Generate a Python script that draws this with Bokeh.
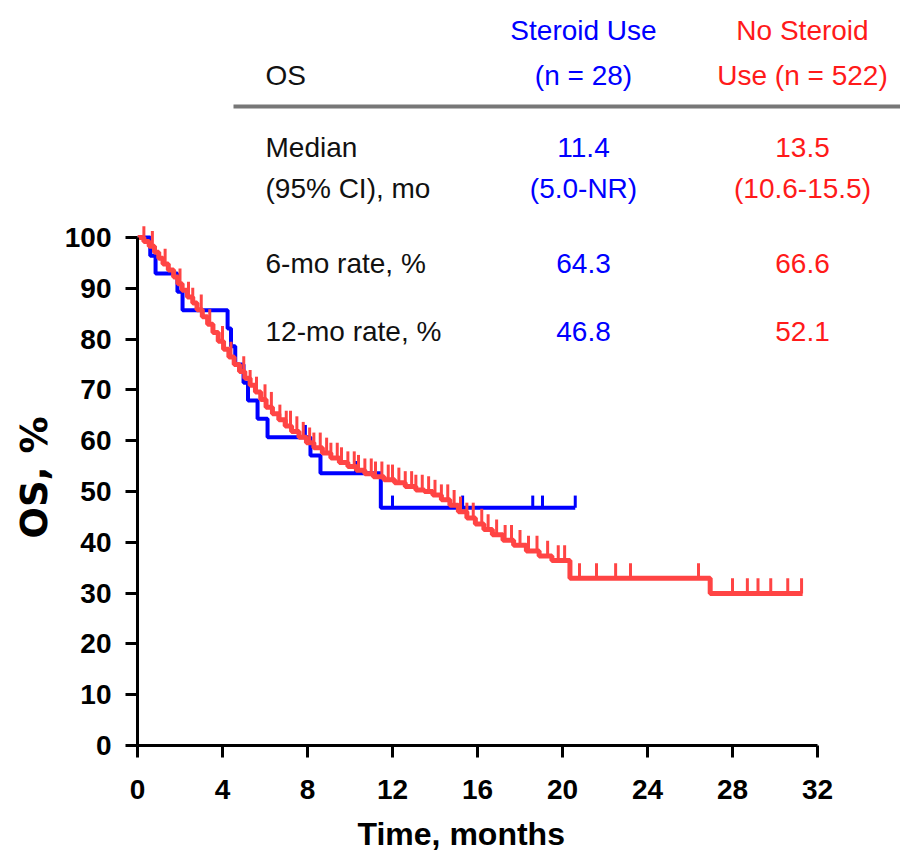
from bokeh.plotting import figure
from bokeh.models import FixedTicker, Title
from bokeh.core.properties import value
from bokeh.embed import file_html
from bokeh.resources import INLINE

# ---------------- data ----------------
# Steroid use (n = 28): drop times (months) and survival (%) after each drop
steroid_t = [0, 0.6, 0.85, 1.88, 2.12, 4.24, 4.4, 4.6, 4.99, 5.2, 5.65, 6.12, 8.14, 8.61, 11.45]
steroid_s = [100, 96.4, 92.9, 89.3, 85.7, 82.1, 78.6, 75.0, 71.4, 67.9, 64.3, 60.7, 57.1, 53.6, 46.8]
steroid_end = 20.6
steroid_censor = [7.9, 10.26, 12.0, 15.3, 18.6, 19.06, 20.6]

# No steroid use (n = 522)
nosteroid_t = [0, 0.3, 0.55, 0.8, 1.0, 1.2, 1.45, 1.7, 1.9, 2.1, 2.35, 2.6, 2.8, 3.05, 3.3,
               3.55, 3.8, 4.05, 4.3, 4.55, 4.8, 5.05, 5.3, 5.55, 5.8, 6.05, 6.35, 6.65, 6.95,
               7.25, 7.6, 7.95, 8.3, 8.7, 9.1, 9.5, 9.9, 10.3, 10.7, 11.1, 11.6, 12.1, 12.6,
               13.1, 13.5, 13.9, 14.3, 14.7, 15.1, 15.5, 15.9, 16.3, 16.7, 17.2, 17.7, 18.3,
               18.9, 19.5, 20.35, 26.95]
nosteroid_s = [100, 99.2, 98.3, 97.1, 95.9, 94.8, 93.6, 92.2, 90.9, 89.6, 88.3, 87.1, 85.8, 84.4, 82.9,
               81.3, 79.6, 78.0, 76.5, 75.0, 73.6, 72.3, 70.9, 69.6, 68.1, 66.6, 65.3, 64.1, 62.9,
               61.8, 60.7, 59.6, 58.6, 57.6, 56.6, 55.7, 54.9, 54.2, 53.5, 52.9, 52.3, 51.7, 51.0,
               50.3, 50.0, 49.3, 48.4, 47.3, 46.0, 44.8, 43.6, 42.5, 41.5, 40.4, 39.4, 38.3,
               37.3, 36.4, 32.9, 29.9]
nosteroid_end = 31.3
nosteroid_censor = [0.3, 0.7, 1.3, 2.0, 2.4, 2.6, 3.0, 3.4, 4.0, 4.4, 5.0, 5.3, 5.6, 6.0, 6.3, 6.7, 7.0,
                    7.2, 7.5, 7.8, 8.1, 8.3, 8.6, 8.9, 9.1, 9.4, 9.6, 9.9, 10.2, 10.4, 10.7, 11.0,
                    11.2, 11.5, 11.8, 12.0, 12.3, 12.6, 12.9, 13.1, 13.4, 13.7, 14.0, 14.3, 14.6,
                    14.9, 15.2, 15.5, 15.8, 16.2, 16.5, 16.9, 17.3, 17.6, 18.0, 18.4, 18.8, 19.3,
                    19.8, 20.1, 20.8, 21.6, 22.5, 23.2, 26.4, 28.0, 28.7, 29.2, 29.8, 30.6, 31.25]

x_ticks = [0, 4, 8, 12, 16, 20, 24, 28, 32]
y_ticks = [0, 10, 20, 30, 40, 50, 60, 70, 80, 90, 100]
x_title = "Time, months"
y_title = "OS, %"

# summary table
table_title = "OS"
steroid_header = ["Steroid Use", "(n = 28)"]
nosteroid_header = ["No Steroid", "Use (n = 522)"]
row_labels = ["Median", "(95%  CI), mo", "6-mo rate, %", "12-mo rate, %"]
steroid_vals = ["11.4", "(5.0-NR)", "64.3", "46.8"]
nosteroid_vals = ["13.5", "(10.6-15.5)", "66.6", "52.1"]

BLUE = "#0000FF"
RED_LINE = "#FF4444"
RED_TEXT = "#FF1A1A"
FONT = "Liberation Sans"

# ---------------- helpers ----------------
def surv_at(ts, ss, t):
    v = ss[0]
    for ti, si in zip(ts, ss):
        if ti <= t:
            v = si
    return v

def step_xy(ts, ss, end):
    xs, ys = [], []
    for i, (ti, si) in enumerate(zip(ts, ss)):
        if i > 0:
            xs.append(ti); ys.append(ss[i - 1])
        xs.append(ti); ys.append(si)
    xs.append(end); ys.append(ss[-1])
    return xs, ys

# ---------------- figure ----------------
W, H = 900, 865
px_per_m = 21.25     # pixels per month
px_per_pct = 5.08    # pixels per percent
x0_px, y0_px = 137, 745   # canvas position of (0 months, 0 %)
x_end = (W - x0_px) / px_per_m
y_end = y0_px / px_per_pct

p = figure(width=W, height=H, output_backend="svg", toolbar_location=None,
           x_range=(0, x_end), y_range=(0, y_end),
           min_border_left=x0_px, min_border_right=0, min_border_top=0,
           min_border_bottom=H - y0_px)
p.outline_line_color = None
p.grid.visible = False
p.background_fill_color = "white"
p.border_fill_color = "white"

for ax, ticks, bnds in ((p.xaxis[0], x_ticks, (0, 32)), (p.yaxis[0], y_ticks, (0, 100))):
    ax.ticker = FixedTicker(ticks=ticks)
    ax.bounds = bnds
    ax.axis_line_width = 3
    ax.major_tick_line_width = 3
    ax.major_tick_out = 12
    ax.major_tick_in = 0
    ax.minor_tick_line_color = None
    ax.major_label_text_font = FONT
    ax.major_label_text_font_style = "bold"
    ax.major_label_text_font_size = "28px"
    ax.major_label_text_color = "black"

p.xaxis.major_label_standoff = 22
p.yaxis.major_label_standoff = 14

# axis titles as side titles, offset so they centre on the 0-32 / 0-100 spans
p.add_layout(Title(text=x_title, text_font=FONT, text_font_style="bold", text_font_size="32px",
                   text_color="black", align="left", offset=220, standoff=24),
             "below")
p.add_layout(Title(text=y_title, text_font="DejaVu Sans", text_font_style="bold",
                   text_font_size="37px", text_color="black", align="left",
                   offset=207, standoff=12),
             "left")

# curves
bx, by = step_xy(steroid_t, steroid_s, steroid_end)
rx, ry = step_xy(nosteroid_t, nosteroid_s, nosteroid_end)

p.line(bx, by, line_color=BLUE, line_width=4)
bc_y = [surv_at(steroid_t, steroid_s, t) for t in steroid_censor]
p.segment(x0=steroid_censor, y0=bc_y, x1=steroid_censor, y1=[v + 2.4 for v in bc_y],
          line_color=BLUE, line_width=3)

p.line(rx, ry, line_color=RED_LINE, line_width=5)
rc_y = [surv_at(nosteroid_t, nosteroid_s, t) for t in nosteroid_censor]
p.segment(x0=nosteroid_censor, y0=rc_y, x1=nosteroid_censor, y1=[v + 3.0 for v in rc_y],
          line_color=RED_LINE, line_width=3)

# ---------------- table ----------------
def mx(px):  # canvas x -> months
    return (px - x0_px) / px_per_m

def my(py):  # canvas y -> percent
    return (y0_px - py) / px_per_pct

col_left = mx(265)
col_s = mx(583)
col_n = mx(802)
head_y = [my(30), my(75)]
row_y = [my(147), my(188), my(263), my(331)]

txt = dict(text_font=value(FONT), text_font_size="28px", text_baseline="middle")

p.text(x=[col_left], y=[my(75)], text=[table_title], text_color="#111111", text_align="left", **txt)
p.text(x=[col_s] * 2, y=head_y, text=steroid_header, text_color=BLUE, text_align="center", **txt)
p.text(x=[col_n] * 2, y=head_y, text=nosteroid_header, text_color=RED_TEXT, text_align="center", **txt)
p.segment(x0=[mx(233)], y0=[my(106)], x1=[mx(904)], y1=[my(106)], line_color="#777777", line_width=4)
p.text(x=[col_left] * 4, y=row_y, text=row_labels, text_color="#111111", text_align="left", **txt)
p.text(x=[col_s] * 4, y=row_y, text=steroid_vals, text_color=BLUE, text_align="center", **txt)
p.text(x=[col_n] * 4, y=row_y, text=nosteroid_vals, text_color=RED_TEXT, text_align="center", **txt)

open("out.html", "w").write(file_html(p, INLINE))
